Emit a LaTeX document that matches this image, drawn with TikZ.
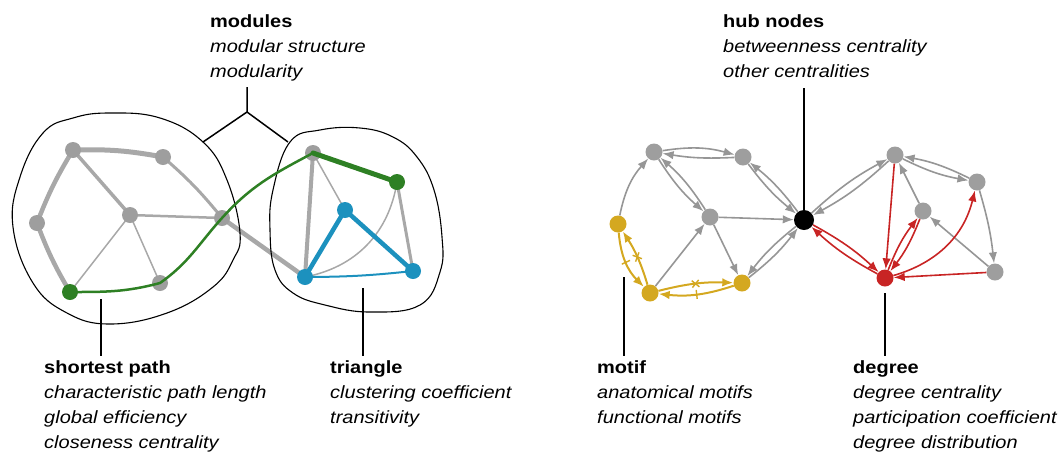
\documentclass[tikz,border=0pt]{standalone}
\usepackage{fontspec}
\setmainfont[FakeStretch=1.13]{Liberation Sans}
\usetikzlibrary{arrows.meta,decorations.markings}

\definecolor{edgegray}{RGB}{168,168,168}
\definecolor{nodegray}{RGB}{158,158,158}
\definecolor{arrgray}{RGB}{150,150,150}
\definecolor{pathgreen}{RGB}{46,128,36}
\definecolor{triblue}{RGB}{28,145,190}
\definecolor{motifyel}{RGB}{212,168,32}
\definecolor{degred}{RGB}{200,36,36}

\pgfdeclarelayer{back}
\pgfdeclarelayer{front}
\pgfsetlayers{back,main,front}

\tikzset{
  dot/.style={circle,inner sep=0pt,minimum size=16pt,fill=nodegray},
  gedge/.style={draw=edgegray,line cap=round},
  lbl/.style={anchor=north west,inner sep=0pt,align=left,font=\fontsize{17.7}{25}\selectfont},
  lead/.style={draw=black,line width=1.5pt},
  blob/.style={draw=black,line width=1.1pt},
  arr/.style={draw=arrgray,line width=1.6pt,-{Latex[length=11pt,width=8.5pt]}},
  rarr/.style={arr,draw=degred},
  yarr/.style={arr,draw=motifyel,line width=2pt},
  ybar/.style={postaction={decorate},decoration={markings,
    mark=at position .5 with {\draw[-,motifyel,line width=1.4pt] (0,-4.5pt) -- (0,4.5pt);}}},
  ycross/.style={postaction={decorate},decoration={markings,
    mark=at position .5 with {\draw[-,motifyel,line width=1.4pt] (-3.5pt,-3.5pt) -- (3.5pt,3.5pt) (-3.5pt,3.5pt) -- (3.5pt,-3.5pt);}}}
}

\begin{document}
\begin{tikzpicture}[x=1pt,y=-1pt]
\useasboundingbox (0,0) rectangle (1062,459);

% labels
\node[lbl] (modlbl) at (210,14.5) {\textbf{modules}\\\textit{modular structure}\\\textit{modularity}};
\node[lbl] (hublbl) at (723,14.5) {\textbf{hub nodes}\\\textit{betweenness centrality}\\\textit{other centralities}};
\node[lbl] (splbl) at (44,360.5) {\textbf{shortest path}\\\textit{characteristic path length}\\\textit{global efficiency}\\\textit{closeness centrality}};
\node[lbl] (trilbl) at (330,360.5) {\textbf{triangle}\\\textit{clustering coefficient}\\\textit{transitivity}};
\node[lbl] (motlbl) at (597,360.5) {\textbf{motif}\\\textit{anatomical motifs}\\\textit{functional motifs}};
\node[lbl] (deglbl) at (853,360.5) {\textbf{degree}\\\textit{degree centrality}\\\textit{participation coefficient}\\\textit{degree distribution}};

% modules
\draw[blob] plot[smooth cycle,tension=0.7] coordinates {(110,113) (160,118) (203,142) (227,180) (240,233) (233,260) (213,287) (167,313) (110,324) (67,313) (33,283) (13,227) (20,177) (43,133) (73,118)};
\draw[blob] plot[smooth cycle,tension=0.7] coordinates {(360,128) (393,137) (417,157) (434,190) (442,237) (440,272) (420,305) (370,312) (325,305) (293,293) (275,270) (270,230) (273,190) (290,142) (320,130)};

% left network
\node[dot] (a) at (73,150) {};
\node[dot] (b) at (163,157) {};
\node[dot] (c) at (37,223) {};
\node[dot] (d) at (130,215) {};
\node[dot] (e) at (222,218) {};
\node[dot] (g) at (160,283) {};
\node[dot] (h) at (313,153) {};
\begin{pgfonlayer}{front}
\node[dot,fill=pathgreen] (f) at (70,292) {};
\node[dot,fill=pathgreen] (i) at (397,182) {};
\node[dot,fill=triblue] (j) at (345,210) {};
\node[dot,fill=triblue] (k) at (305,277) {};
\node[dot,fill=triblue] (l) at (413,271) {};
\end{pgfonlayer}

\begin{pgfonlayer}{back}
\draw[gedge,line width=5pt] (a.center) to[bend left=6] (b.center);
\draw[gedge,line width=4.5pt] (a.center) to[bend right=5] (c.center);
\draw[gedge,line width=4.5pt] (c.center) to[bend right=5] (f.center);
\draw[gedge,line width=3.5pt] (a.center) -- (d.center);
\draw[gedge,line width=3pt] (b.center) to[bend left=5] (e.center);
\draw[gedge,line width=2.5pt] (d.center) -- (e.center);
\draw[gedge,line width=1.5pt] (d.center) -- (f.center);
\draw[gedge,line width=1.5pt] (d.center) -- (g.center);
\draw[gedge,line width=4.5pt] (e.center) -- (k.center);
\draw[gedge,line width=4pt] (h.center) -- (k.center);
\draw[gedge,line width=1.5pt] (h.center) -- (j.center);
\draw[gedge,line width=3pt] (i.center) -- (l.center);
\draw[gedge,line width=1.5pt] (k.center) to[bend right=35] (i.center);
\draw[triblue,line width=4.5pt,line cap=round] (k.center) -- (j.center) -- (l.center);
\draw[triblue,line width=2pt] (k.center) to[bend right=3] (l.center);
\end{pgfonlayer}

% shortest path
\draw[pathgreen,line width=2.5pt,line cap=round] (f.center) to[out=0,in=195] (g.center) to[out=35,in=228] (e.center) to[out=48,in=208] (h.center);
\draw[pathgreen,line width=5pt,line cap=round] (h.center) -- (i.center);

% right network
\node[dot,minimum size=17pt] (p1) at (654,152) {};
\node[dot,minimum size=17pt] (p2) at (743,157) {};
\node[dot,minimum size=17pt] (p3) at (710,217) {};
\node[dot,minimum size=17pt,fill=motifyel] (y1) at (618,224) {};
\node[dot,minimum size=17pt,fill=motifyel] (y2) at (650,293) {};
\node[dot,minimum size=17pt,fill=motifyel] (y3) at (742,283) {};
\node[dot,fill=black,minimum size=20pt] (hub) at (804,220) {};
\node[dot,minimum size=17pt] (q1) at (895,155) {};
\node[dot,minimum size=17pt] (q2) at (977,182) {};
\node[dot,minimum size=17pt] (q3) at (923,211) {};
\node[dot,minimum size=17pt] (q4) at (995,272) {};
\node[dot,minimum size=17pt,fill=degred] (deg) at (885,278) {};

\draw[arr] (p1) to[bend left=12] (p2);
\draw[arr] (p2) to[bend left=6] (p1);
\draw[arr] (y1) to[bend left=15] (p1);
\draw[arr] (p1) to[bend right=8] (p3);
\draw[arr] (p3) to[bend right=8] (p1);
\draw[arr] (p2) to[bend right=7] (hub);
\draw[arr] (hub) to[bend right=7] (p2);
\draw[arr] (p3) -- (hub);
\draw[arr] (p3) -- (y3);
\draw[arr] (y2) -- (p3);
\draw[arr] (hub) to[bend right=7] (y3);
\draw[arr] (y3) to[bend right=7] (hub);
\draw[arr] (hub) to[bend left=7] (q1);
\draw[arr] (q1) to[bend left=7] (hub);
\draw[arr] (q2) to[bend right=8] (q1);
\draw[arr] (q1) to[bend right=8] (q2);
\draw[arr] (q3) -- (q1);
\draw[arr] (q2) to[bend left=5] (q4);
\draw[arr] (q4) -- (q3);

\draw[rarr] (hub) to[bend left=7] (deg);
\draw[rarr] (deg) to[bend left=7] (hub);
\draw[rarr] (q1) -- (deg);
\draw[rarr] (deg) to[bend left=8] (q3);
\draw[rarr] (q3) to[bend left=8] (deg);
\draw[rarr] (deg) to[bend right=30] (q2);
\draw[rarr] (q4) -- (deg);

\draw[yarr,ybar] (y1) to[bend right=20] (y2);
\draw[yarr,ycross] (y2) to[bend right=8] (y1);
\draw[yarr,ycross] (y2) to[bend left=8] (y3);
\draw[yarr,ybar] (y3) to[bend left=12] (y2);

% leader lines
\coordinate (brktop) at (247,87);
\coordinate (brk) at (247,112);
\coordinate (brkl) at (203,142);
\coordinate (brkr) at (288,142);
\draw[lead] (brktop) -- (brk) (brkl) -- (brk) -- (brkr);
\coordinate (hubtop) at (804,88);
\draw[lead] (hubtop) -- (hub);
\coordinate (sptop) at (101,299);
\coordinate (spbot) at (101,356);
\draw[lead] (sptop) -- (spbot);
\coordinate (tritop) at (363,288);
\coordinate (tribot) at (363,356);
\draw[lead] (tritop) -- (tribot);
\coordinate (mottop) at (624,277);
\coordinate (motbot) at (624,356);
\draw[lead] (mottop) -- (motbot);
\coordinate (degtop) at (885,293);
\coordinate (degbot) at (885,356);
\draw[lead] (degtop) -- (degbot);
\end{tikzpicture}
\end{document}
